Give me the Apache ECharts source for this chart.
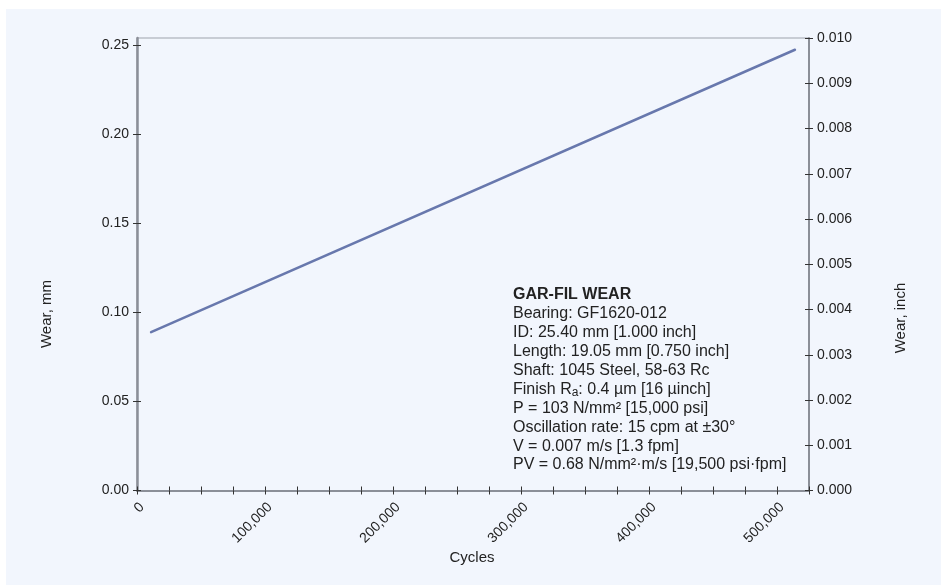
<!DOCTYPE html>
<html>
<head>
<meta charset="utf-8">
<script src="https://cdn.jsdelivr.net/npm/echarts@6/dist/echarts.min.js"></script>
<style>
html,body{margin:0;padding:0;background:#ffffff;}
#bg{position:absolute;left:6px;top:9px;width:935px;height:576px;background:#f2f6fd;}
#chart{position:absolute;left:0;top:0;width:941px;height:586px;}
</style>
</head>
<body>
<div id="bg"></div>
<div id="chart"></div>
<script>
// ---- data ----
const cycles = [11000, 514000];
const wearMm = [0.0889, 0.2474];
const xLabelValues = [0, 100000, 200000, 300000, 400000, 500000];
const leftTickValues = [0, 0.05, 0.10, 0.15, 0.20, 0.25];
const rightTickValues = [0, 0.001, 0.002, 0.003, 0.004, 0.005, 0.006, 0.007, 0.008, 0.009, 0.010];
const xTitle = 'Cycles';
const leftTitle = 'Wear, mm';
const rightTitle = 'Wear, inch';
const noteTitle = 'GAR-FIL WEAR';
const noteLines = [
  'Bearing: GF1620-012',
  'ID: 25.40 mm [1.000 inch]',
  'Length: 19.05 mm [0.750 inch]',
  'Shaft: 1045 Steel, 58-63 Rc',
  ['Finish R', 'a', ': 0.4 \u00b5m [16 \u00b5inch]'],
  'P = 103 N/mm\u00b2 [15,000 psi]',
  'Oscillation rate: 15 cpm at \u00b130\u00b0',
  'V = 0.007 m/s [1.3 fpm]',
  'PV = 0.68 N/mm\u00b2\u00b7m/s [19,500 psi\u00b7fpm]'
];

const FONT = 'Liberation Sans, Arial, sans-serif';
const TXT = '#222';
const AXC = '#8b8f98';
const MM_PER_INCH = 25.4;
const xMax = 525000;
const leftMax = 0.010 * MM_PER_INCH;

const chart = echarts.init(document.getElementById('chart'), null, {renderer: 'canvas'});

function fmtThousands(v) {
  return String(Math.round(v)).replace(/\B(?=(\d{3})+(?!\d))/g, ',');
}

const noteText = ['{b|' + noteTitle + '}'].concat(noteLines.map(l => {
  if (Array.isArray(l)) return '{n|' + l[0] + '}{s|' + l[1] + '}{n|' + l[2] + '}';
  return '{n|' + l + '}';
})).join('\n');

const baseX = {
  type: 'value', gridIndex: 0, position: 'bottom', min: 0, max: xMax, interval: 25000,
  splitLine: {show: false}
};
const baseYL = {
  type: 'value', gridIndex: 0, position: 'left', min: 0, max: leftMax,
  splitLine: {show: false}
};
const baseYR = {
  type: 'value', gridIndex: 0, position: 'right', min: 0, max: 0.010, interval: 0.001,
  splitLine: {show: false}
};

const option = {
  backgroundColor: 'transparent',
  animation: false,
  grid: {
    left: 137, right: 132, top: 38, bottom: 95.5,
    show: true, borderColor: '#9ea3ac', borderWidth: 1, backgroundColor: 'transparent',
    containLabel: false
  },
  xAxis: [
    Object.assign({}, baseX, {
      axisLine: {show: true, lineStyle: {color: AXC, width: 2}},
      axisTick: {show: true, inside: false, length: 4, lineStyle: {color: '#333', width: 1}},
      axisLabel: {
        show: true, rotate: 45, margin: 9.5, fontSize: 14, color: TXT, fontFamily: FONT,
        align: 'right', verticalAlign: 'top',
        customValues: xLabelValues,
        formatter: v => fmtThousands(v)
      }
    }),
    Object.assign({}, baseX, {
      axisLine: {show: false},
      axisTick: {show: true, inside: true, length: 4, lineStyle: {color: '#333', width: 1}},
      axisLabel: {show: false}
    })
  ],
  yAxis: [
    Object.assign({}, baseYL, {
      axisLine: {show: true, lineStyle: {color: AXC, width: 2.5}},
      axisTick: {show: true, inside: false, length: 4, customValues: leftTickValues, lineStyle: {color: '#333', width: 1}},
      axisLabel: {
        show: true, margin: 8, fontSize: 14, color: TXT, fontFamily: FONT,
        customValues: leftTickValues,
        formatter: v => v.toFixed(2)
      }
    }),
    Object.assign({}, baseYL, {
      axisLine: {show: false},
      axisTick: {show: true, inside: true, length: 4, customValues: leftTickValues, lineStyle: {color: '#333', width: 1}},
      axisLabel: {show: false}
    }),
    Object.assign({}, baseYR, {
      axisLine: {show: true, lineStyle: {color: AXC, width: 2}},
      axisTick: {show: true, inside: false, length: 4, lineStyle: {color: '#333', width: 1}},
      axisLabel: {
        show: true, margin: 8, fontSize: 14, color: TXT, fontFamily: FONT,
        customValues: rightTickValues,
        formatter: v => v.toFixed(3)
      }
    }),
    Object.assign({}, baseYR, {
      axisLine: {show: false},
      axisTick: {show: true, inside: true, length: 4, lineStyle: {color: '#333', width: 1}},
      axisLabel: {show: false}
    })
  ],
  series: [{
    type: 'line',
    xAxisIndex: 0, yAxisIndex: 0,
    data: cycles.map((c, i) => [c, wearMm[i]]),
    showSymbol: false, symbol: 'none',
    lineStyle: {color: '#6878ad', width: 2.5, cap: 'round'},
    silent: true
  }],
  graphic: [
    {type: 'text', x: 47, y: 314, rotation: Math.PI / 2,
     style: {text: leftTitle, font: '15px ' + FONT, fill: TXT, align: 'center', verticalAlign: 'middle'}},
    {type: 'text', x: 901, y: 318, rotation: Math.PI / 2,
     style: {text: rightTitle, font: '15px ' + FONT, fill: TXT, align: 'center', verticalAlign: 'middle'}},
    {type: 'text', x: 472, y: 558,
     style: {text: xTitle, font: '15px ' + FONT, fill: TXT, align: 'center', verticalAlign: 'middle'}},
    {type: 'text', x: 513, y: 285.5,
     style: {
       text: noteText, align: 'left', verticalAlign: 'top', fill: TXT,
       rich: {
         b: {fontSize: 16, fontWeight: 'bold', fontFamily: FONT, lineHeight: 18.9, fill: TXT},
         n: {fontSize: 16, fontFamily: FONT, lineHeight: 18.9, fill: TXT},
         s: {fontSize: 12, fontFamily: FONT, lineHeight: 12, verticalAlign: 'bottom', fill: TXT}
       }
     }}
  ]
};
chart.setOption(option);
</script>
</body>
</html>
